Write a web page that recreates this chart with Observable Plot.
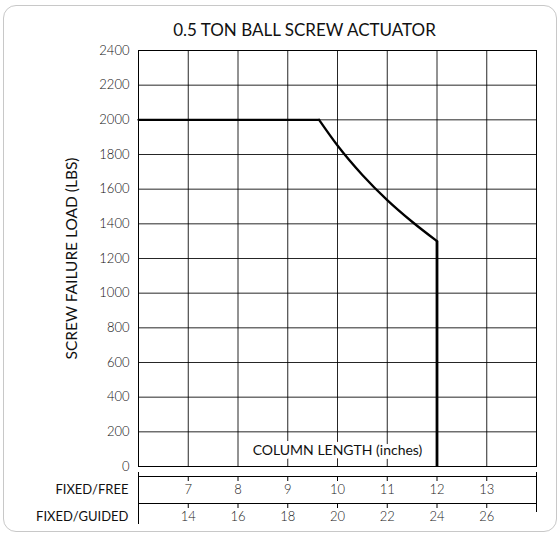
<!DOCTYPE html>
<html><head><meta charset="utf-8">
<script src="https://cdn.jsdelivr.net/npm/d3@7"></script>
<script src="https://cdn.jsdelivr.net/npm/@observablehq/plot@0.6"></script>
<style>
html,body{margin:0;padding:0;background:#fff;}
#wrap{position:relative;width:559px;height:535px;overflow:hidden;font-family:Lato,"Open Sans",sans-serif;}
#title{position:absolute;left:50px;top:20px;width:509px;text-align:center;font-size:17px;line-height:20px;color:#111;}
#border{position:absolute;left:3px;top:5px;width:552px;height:525px;border:1.5px solid #c8c8c8;border-radius:13px;pointer-events:none;z-index:5;}
#main{position:absolute;left:0;top:40px;}
#band{position:absolute;left:0;top:470px;}
</style></head>
<body>
<div id="wrap">
  <div id="title"></div>
  <div id="main"></div>
  <div id="band"></div>
  <div id="border"></div>
</div>
<script>
// ---- data ----
const titleText = "0.5 TON BALL SCREW ACTUATOR";
const yLabel = "SCREW FAILURE LOAD (LBS)";
const xLabel = "COLUMN LENGTH (inches)";
const xLabelAt = 10; // column length (fixed/free) under the label centre
const loadTicks = [0, 200, 400, 600, 800, 1000, 1200, 1400, 1600, 1800, 2000, 2200, 2400];
const freeGrid = [6, 7, 8, 9, 10, 11, 12, 13, 14];
const freeLabels = [7, 8, 9, 10, 11, 12, 13];
const guidedLabels = [14, 16, 18, 20, 22, 24, 26];
const rowFree = "FIXED/FREE";
const rowGuided = "FIXED/GUIDED";
// flat part of the curve: column length (fixed/free, inches) vs failure load (lbs)
const flatLengths = [6, 9.63];
const flatLoads = [2000, 2000];
// descending part
const bendLengths = [9.63, 10, 10.5, 11, 11.5, 12];
const bendLoads = [2000, 1852, 1682, 1537, 1412, 1300];
// vertical drop at the maximum column length
const dropLength = 12;
const dropLoad = 1300;

const flat = flatLengths.map((x, i) => ({x, y: flatLoads[i]}));
const bend = bendLengths.map((x, i) => ({x, y: bendLoads[i]}));
const ff = "Lato, 'Open Sans', sans-serif";

const mainPlot = Plot.plot({
  width: 559, height: 440,
  marginTop: 10, marginBottom: 14, marginLeft: 138, marginRight: 23,
  style: {background: "transparent", fontFamily: ff, fontSize: "13px", color: "#111", fontWeight: 300},
  x: {domain: [6, 14], axis: null},
  y: {domain: [0, 2400], ticks: loadTicks, tickSize: 0, tickPadding: 9, label: null, tickFormat: "d"},
  marks: [
    Plot.ruleX(freeGrid, {x: d => d, stroke: "#000", strokeOpacity: 0.85}),
    Plot.ruleY(loadTicks, {y: d => d, stroke: "#000", strokeOpacity: 0.85}),
    Plot.frame({stroke: "#000"}),
    Plot.line(flat, {x: "x", y: "y", stroke: "#000", strokeWidth: 2.3}),
    Plot.line(bend, {x: "x", y: "y", stroke: "#000", strokeWidth: 2.3, curve: "monotone-x"}),
    Plot.ruleX([dropLength], {x: d => d, y1: 0, y2: dropLoad, stroke: "#000", strokeWidth: 2.8}),
    Plot.text([yLabel], {text: d => d, frameAnchor: "left", dx: -66, rotate: -90, textAnchor: "middle", lineAnchor: "middle", fontSize: 15.5, fontWeight: 400, fill: "#111"}),
    Plot.text([xLabel], {text: d => d, x: () => xLabelAt, frameAnchor: "bottom", lineAnchor: "middle", dy: -16, stroke: "white", strokeWidth: 8, fill: "#111", fontSize: 14, fontWeight: 400})
  ]
});
document.getElementById("main").appendChild(mainPlot);

const bandPlot = Plot.plot({
  width: 559, height: 65,
  marginTop: 6, marginBottom: 32, marginLeft: 138, marginRight: 23,
  style: {background: "transparent", fontFamily: ff, fontSize: "13px", color: "#111"},
  x: {domain: [6, 14], axis: null},
  marks: [
    Plot.frame({stroke: "#000"}),
    Plot.tickX(freeLabels, {x: d => d, insetBottom: 22, stroke: "#000"}),
    Plot.tickX(guidedLabels, {x: d => d / 2, insetTop: 27, insetBottom: -5, stroke: "#000"}),
    Plot.tickX([freeGrid[0]], {x: d => d, insetTop: -4, insetBottom: -21, stroke: "#000"}),
    Plot.tickX([freeGrid[freeGrid.length - 1]], {x: d => d, insetTop: -4, insetBottom: -9, stroke: "#000"}),
    Plot.text(freeLabels, {x: d => d, text: d => String(d), frameAnchor: "middle", lineAnchor: "middle", fill: "#222", fontWeight: 300}),
    Plot.text(guidedLabels, {x: d => d / 2, text: d => String(d), frameAnchor: "bottom", lineAnchor: "middle", dy: 13.5, fill: "#222", fontWeight: 300}),
    Plot.text([rowFree], {text: d => d, frameAnchor: "left", lineAnchor: "middle", dx: -10, textAnchor: "end", fill: "#111"}),
    Plot.text([rowGuided], {text: d => d, frameAnchor: "bottom-left", lineAnchor: "middle", dx: -10, dy: 13.5, textAnchor: "end", fill: "#111"})
  ]
});
document.getElementById("band").appendChild(bandPlot);
document.getElementById("title").textContent = titleText;
</script>
</body></html>
